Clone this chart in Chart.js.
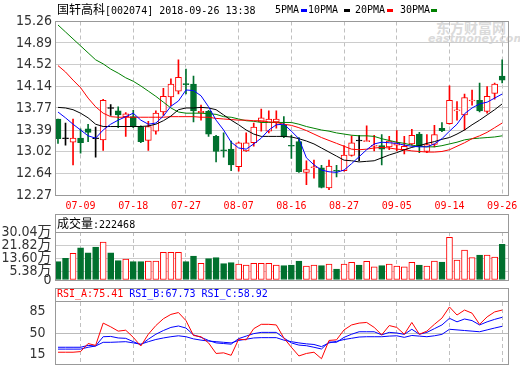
<!DOCTYPE html>
<html>
<head>
<meta charset="utf-8">
<script src="https://cdn.jsdelivr.net/npm/chart.js@4.4.1/dist/chart.umd.min.js"></script>
<style>
  html, body { margin: 0; padding: 0; background: #fff; }
  #wrap { position: relative; width: 520px; height: 365px; overflow: hidden; font-family: "DejaVu Sans Mono", "Noto Sans CJK SC", monospace; }
  canvas { position: absolute; left: 0; }
  .box { position: absolute; border: 1px solid #999; box-sizing: border-box; pointer-events: none; }
  .sep { position: absolute; height: 1px; background: #999; }
  .txt { position: absolute; font-size: 10px; line-height: 14px; white-space: nowrap; }
  .cjk { font-family: "Noto Sans CJK SC"; font-size: 12px; }
  .sw { position: absolute; width: 6px; height: 3px; }
  .wm { position: absolute; color: #dadada; white-space: nowrap; }
</style>
</head>
<body>
<div id="wrap">
  <div class="wm" style="left:436px; top:17px; font: bold 14px 'Noto Sans CJK SC';">东方财富网</div>
  <div class="wm" style="left:428px; top:32px; font: italic bold 11px 'DejaVu Sans';">eastmoney.com</div>

  <canvas id="priceChart" width="520" height="214" style="top:0"></canvas>
  <canvas id="volumeChart" width="520" height="70" style="top:214px"></canvas>
  <canvas id="rsiChart" width="520" height="77" style="top:288px"></canvas>

  <div class="txt" style="left:57px; top:2px;"><span class="cjk">国轩高科</span>[002074] 2018-09-26 13:38</div>
  <div class="txt" style="left:275px; top:3px;">5PMA</div>
  <div class="sw" style="left:301px; top:9px; background:#0000ff;"></div>
  <div class="txt" style="left:308px; top:3px;">10PMA</div>
  <div class="sw" style="left:344px; top:9px; background:#000000;"></div>
  <div class="txt" style="left:355px; top:3px;">20PMA</div>
  <div class="sw" style="left:387px; top:9px; background:#ff0000;"></div>
  <div class="txt" style="left:400px; top:3px;">30PMA</div>
  <div class="sw" style="left:431px; top:9px; background:#008000;"></div>

  <div class="box" style="left:55px; top:21px; width:454px; height:175px;"></div>

  <div class="box" style="left:55px; top:214px; width:454px; height:67px;"></div>
  <div class="sep" style="left:55px; top:232px; width:454px;"></div>
  <div class="txt" style="left:57px; top:216px;"><span class="cjk">成交量</span>:222468</div>

  <div class="box" style="left:55px; top:288px; width:454px; height:77px;"></div>
  <div class="sep" style="left:55px; top:301px; width:454px;"></div>
  <div class="txt" style="left:57px; top:287px;"><span style="color:#ff0000">RSI_A:75.41</span> <span style="color:#0000ff">RSI_B:67.73</span> <span style="color:#0000ff">RSI_C:58.92</span></div>
</div>

<script>
// trading days shown, 2018-07-04 .. 2018-09-26
const dates = [
  "07-04", "07-05", "07-06", "07-09", "07-10", "07-11", "07-12", "07-13", "07-16", "07-17",
  "07-18", "07-19", "07-20", "07-23", "07-24", "07-25", "07-26", "07-27", "07-30", "07-31",
  "08-01", "08-02", "08-03", "08-06", "08-07", "08-08", "08-09", "08-10", "08-13", "08-14",
  "08-15", "08-16", "08-17", "08-20", "08-21", "08-22", "08-23", "08-24", "08-27", "08-28",
  "08-29", "08-30", "08-31", "09-03", "09-04", "09-05", "09-06", "09-07", "09-10", "09-11",
  "09-12", "09-13", "09-14", "09-17", "09-18", "09-19", "09-20", "09-21", "09-25", "09-26",
];
const dateTicks = ["07-09", "07-18", "07-27", "08-07", "08-16", "08-27", "09-05", "09-14", "09-26"];

const opens = [
  13.58, 13.24, 13.18, 13.25, 13.41, 13.24, 13.22, 13.76, 13.72, 13.62,
  13.62, 13.44, 13.21, 13.37, 13.70, 13.96, 14.06, 14.19, 14.18, 13.69,
  13.71, 13.28, 13.04, 13.06, 12.76, 13.03, 13.17, 13.53, 13.37, 13.53,
  13.47, 13.12, 13.19, 12.66, 12.74, 12.74, 12.39, 12.69, 12.69, 12.95,
  13.20, 13.19, 13.11, 13.12, 13.10, 13.13, 13.05, 13.15, 13.32, 13.02,
  13.14, 13.42, 13.50, 13.72, 13.65, 13.89, 13.90, 13.71, 14.02, 14.32,
];
const highs = [
  13.58, 13.51, 13.58, 13.41, 13.49, 13.44, 13.92, 13.83, 13.79, 13.69,
  13.73, 13.46, 13.54, 13.72, 14.11, 14.27, 14.60, 14.44, 14.32, 13.82,
  13.73, 13.30, 13.34, 13.20, 13.18, 13.34, 13.51, 13.75, 13.72, 13.72,
  13.62, 13.30, 13.26, 12.86, 12.87, 12.78, 12.87, 12.78, 13.12, 13.29,
  13.30, 13.46, 13.30, 13.31, 13.28, 13.38, 13.28, 13.40, 13.35, 13.31,
  13.47, 13.52, 14.15, 13.88, 14.01, 14.08, 14.20, 14.14, 14.20, 14.60,
];
const lows = [
  13.16, 13.13, 12.79, 12.99, 13.19, 12.92, 13.04, 13.64, 13.43, 13.28,
  13.43, 13.17, 13.04, 13.32, 13.64, 13.81, 14.01, 14.01, 13.53, 13.56,
  13.28, 12.84, 12.92, 12.69, 12.68, 13.02, 13.11, 13.37, 13.34, 13.42,
  13.26, 12.90, 12.66, 12.45, 12.56, 12.39, 12.36, 12.58, 12.68, 12.94,
  12.86, 13.19, 13.03, 12.79, 13.05, 13.03, 12.98, 13.13, 13.00, 13.00,
  13.10, 13.36, 13.49, 13.56, 13.39, 13.82, 13.70, 13.68, 13.92, 14.20,
];
const closes = [
  13.24, 13.24, 13.25, 13.17, 13.35, 13.24, 13.90, 13.76, 13.65, 13.67,
  13.46, 13.19, 13.45, 13.68, 13.97, 14.18, 14.30, 14.17, 13.72, 13.71,
  13.32, 13.02, 13.03, 12.79, 13.17, 13.17, 13.44, 13.60, 13.58, 13.58,
  13.27, 13.11, 12.67, 12.71, 12.75, 12.40, 12.77, 12.68, 12.96, 13.17,
  13.20, 13.20, 13.12, 13.06, 13.20, 13.17, 13.11, 13.30, 13.11, 13.14,
  13.31, 13.38, 13.90, 13.73, 13.95, 13.90, 13.72, 13.97, 14.18, 14.25,
];

// moving averages as drawn on the chart
const ma5 = [
  13.70, 13.60, 13.49, 13.39, 13.29, 13.25, 13.39, 13.49, 13.56, 13.62,
  13.68, 13.56, 13.49, 13.51, 13.63, 13.80, 13.89, 14.08, 14.07, 13.98,
  13.79, 13.56, 13.39, 13.18, 13.08, 13.06, 13.15, 13.25, 13.39, 13.48,
  13.49, 13.37, 13.24, 12.91, 12.79, 12.70, 12.67, 12.66, 12.70, 12.81,
  12.93, 13.05, 13.15, 13.18, 13.17, 13.16, 13.13, 13.11, 13.10, 13.10,
  13.15, 13.24, 13.37, 13.49, 13.67, 13.77, 13.84, 13.87, 13.94, 14.01,
];
const ma10 = [
  13.78, 13.77, 13.74, 13.68, 13.60, 13.49, 13.45, 13.45, 13.45, 13.45,
  13.45, 13.45, 13.46, 13.49, 13.55, 13.63, 13.74, 13.77, 13.77, 13.78,
  13.77, 13.74, 13.65, 13.56, 13.48, 13.39, 13.32, 13.28, 13.28, 13.28,
  13.28, 13.27, 13.24, 13.20, 13.15, 13.08, 13.01, 12.94, 12.87, 12.86,
  12.84, 12.85, 12.86, 12.91, 12.96, 13.00, 13.05, 13.09, 13.12, 13.16,
  13.19, 13.23, 13.26, 13.32, 13.39, 13.48, 13.56, 13.65, 13.74, 13.84,
];
const ma20 = [
  14.50, 14.39, 14.25, 14.12, 13.94, 13.79, 13.68, 13.62, 13.61, 13.61,
  13.61, 13.61, 13.61, 13.61, 13.61, 13.62, 13.62, 13.62, 13.62, 13.61,
  13.61, 13.59, 13.58, 13.57, 13.56, 13.56, 13.55, 13.55, 13.53, 13.52,
  13.49, 13.47, 13.43, 13.38, 13.32, 13.26, 13.21, 13.16, 13.11, 13.06,
  13.05, 13.06, 13.08, 13.09, 13.08, 13.06, 13.05, 13.03, 13.02, 13.01,
  13.01, 13.02, 13.05, 13.11, 13.17, 13.24, 13.29, 13.35, 13.43, 13.51,
];
const ma30 = [
  15.20, 15.08, 14.96, 14.84, 14.72, 14.60, 14.53, 14.44, 14.37, 14.29,
  14.23, 14.15, 14.06, 13.97, 13.87, 13.77, 13.70, 13.68, 13.68, 13.68,
  13.67, 13.66, 13.62, 13.61, 13.58, 13.55, 13.54, 13.52, 13.52, 13.52,
  13.52, 13.52, 13.49, 13.45, 13.42, 13.39, 13.37, 13.34, 13.32, 13.30,
  13.29, 13.29, 13.28, 13.24, 13.21, 13.18, 13.16, 13.13, 13.11, 13.10,
  13.10, 13.12, 13.15, 13.18, 13.22, 13.24, 13.25, 13.26, 13.27, 13.29,
];

// volume, in 万 shares
const volumes = [
  11.45, 13.58, 16.71, 20.21, 17.08, 20.65, 23.78, 17.08, 12.08, 13.14,
  11.45, 11.45, 11.89, 11.89, 17.33, 17.33, 17.33, 11.45, 15.02, 10.45,
  13.33, 13.96, 10.20, 10.83, 10.01, 9.39, 10.45, 10.45, 10.45, 9.39,
  8.95, 9.39, 11.89, 8.76, 9.39, 8.95, 10.01, 6.88, 10.01, 11.08,
  9.39, 11.70, 8.32, 8.95, 10.01, 8.76, 8.32, 11.08, 9.39, 8.76,
  11.89, 11.26, 26.72, 12.52, 18.77, 13.96, 15.65, 15.65, 14.39, 22.25,
];

const rsiA = [
  19, 19, 19, 20, 33, 30, 66, 60, 53, 54.5,
  43, 29, 48, 62, 73, 80, 83, 70, 46, 44,
  34, 17, 18, 14, 40, 39, 57, 64, 64, 63,
  42, 27, 13, 17, 19, 8.5, 38, 39, 55, 63,
  66, 67, 59, 47, 62, 59, 48, 67, 48, 53,
  64, 74, 92, 79, 87, 82, 64, 76, 84, 87,
];
const rsiB = [
  27, 27, 27, 27, 30, 29, 44, 44.5, 42, 41.4,
  36, 31, 40, 48, 54, 59, 61.3, 58, 47, 43,
  38, 34, 33, 32, 41, 45, 49, 51, 51, 51,
  42, 34, 30.5, 29.5, 27, 24.2, 35.5, 35, 43, 48,
  52, 52, 52, 47, 51, 50, 47.8, 56, 48, 51,
  57, 63, 73.7, 68, 72.6, 70, 63, 68, 72, 75.3,
];
const rsiC = [
  24, 24, 24, 24, 27, 29, 35, 35, 35.5, 36,
  34, 32, 36, 39.5, 42, 44, 45.5, 44, 40.5, 38.5,
  37, 36, 35, 34, 38, 40, 42, 42.5, 42.5, 42.5,
  38.5, 36, 34, 32.5, 31.5, 28, 34, 36.5, 39.5, 41.5,
  43.5, 44, 44, 44, 45, 45.5, 43, 46, 45, 44,
  45.5, 47.8, 56, 55, 54, 53, 52, 55, 58, 60.8,
];

const priceTicks = [12.27, 12.64, 13.02, 13.39, 13.77, 14.14, 14.52, 14.89, 15.26];
const volumeTicks = [0, 5.38, 13.60, 21.82, 30.04];
const rsiTicks = [15, 50, 85];

const UP = "#ff0000";
const DOWN = "#00702e";
const FLAT = "#000000";
const GRID = "#cccccc";
const VGRID = "#c0c0c0";
const AXIS_FONT = "'Liberation Sans Narrow', 'DejaVu Sans Condensed', 'Noto Sans CJK SC', sans-serif";
const MONO_FONT = "'DejaVu Sans Mono', monospace";

const idx = dates.map((d, i) => i);
const candleColor = idx.map((i) => {
  if (closes[i] > opens[i]) return UP;
  if (closes[i] < opens[i]) return DOWN;
  return FLAT;
});

// shared x axis: the same index range in all three panels
function xAxis(showLabels, height) {
  return {
    type: "linear",
    min: -0.33,
    max: 59.84,
    offset: false,
    afterBuildTicks: (scale) => {
      scale.ticks = dateTicks.map((d) => ({ value: dates.indexOf(d) }));
    },
    afterFit: (scale) => {
      scale.height = height;
      scale.paddingLeft = 0;
      scale.paddingRight = 0;
    },
    ticks: {
      display: showLabels,
      autoSkip: false,
      maxRotation: 0,
      padding: 5,
      color: "#ff0000",
      font: { family: MONO_FONT, size: 10 },
      callback: (value) => dates[value],
    },
    grid: { color: VGRID, drawTicks: false, offset: false },
    border: { display: false, dash: [4, 3] },
  };
}

function yAxis(min, max, tickValues, labelFn, pad, gridFn) {
  return {
    min: min,
    max: max,
    afterBuildTicks: (scale) => {
      scale.ticks = tickValues.map((v) => ({ value: v }));
    },
    afterFit: (scale) => {
      scale.width = 55.5;
      scale.paddingTop = 0;
      scale.paddingBottom = 0;
    },
    ticks: {
      autoSkip: false,
      padding: pad,
      color: "#333333",
      font: { family: AXIS_FONT, size: 14 },
      callback: labelFn,
    },
    grid: { color: gridFn, drawTicks: false },
    border: { display: false },
  };
}

const baseOptions = {
  responsive: false,
  animation: false,
  events: [],
  plugins: { legend: { display: false }, tooltip: { enabled: false } },
};

/* Price panel: candles + moving averages */

new Chart(document.getElementById("priceChart"), {
  type: "bar",
  data: {
    datasets: [
      {
        type: "line",
        data: idx.map((i) => ({ x: i, y: ma5[i] })),
        borderColor: "#0000ff",
        borderWidth: 1,
        pointRadius: 0,
        order: 0,
      },
      {
        type: "line",
        data: idx.map((i) => ({ x: i, y: ma10[i] })),
        borderColor: "#000000",
        borderWidth: 1,
        pointRadius: 0,
        order: 0,
      },
      {
        type: "line",
        data: idx.map((i) => ({ x: i, y: ma20[i] })),
        borderColor: "#ff0000",
        borderWidth: 1,
        pointRadius: 0,
        order: 0,
      },
      {
        type: "line",
        data: idx.map((i) => ({ x: i, y: ma30[i] })),
        borderColor: "#008000",
        borderWidth: 1,
        pointRadius: 0,
        order: 0,
      },
      {
        // candle bodies
        data: idx.map((i) => ({ x: i, y: [opens[i], closes[i]] })),
        backgroundColor: idx.map((i) => (candleColor[i] === UP ? "#ffffff" : candleColor[i])),
        borderColor: candleColor,
        borderWidth: 1,
        borderSkipped: false,
        barThickness: 6,
        minBarLength: 1,
        grouped: false,
        order: 1,
      },
      {
        // wicks
        data: idx.map((i) => ({ x: i, y: [lows[i], highs[i]] })),
        backgroundColor: candleColor,
        borderWidth: 0,
        barThickness: 1,
        grouped: false,
        order: 2,
      },
    ],
  },
  options: {
    ...baseOptions,
    layout: { padding: { top: 21.5, right: 11.5, left: 0, bottom: 0 } },
    scales: {
      x: xAxis(true, 19),
      y: yAxis(12.27, 15.26, priceTicks, (v) => v.toFixed(2), 3.5, () => GRID),
    },
  },
});

/* Volume panel */

new Chart(document.getElementById("volumeChart"), {
  type: "bar",
  data: {
    datasets: [
      {
        data: idx.map((i) => ({ x: i, y: volumes[i] })),
        backgroundColor: idx.map((i) => (candleColor[i] === UP ? "#ffffff" : DOWN)),
        borderColor: idx.map((i) => (candleColor[i] === UP ? UP : DOWN)),
        borderWidth: 1,
        borderSkipped: false,
        barThickness: 6,
        grouped: false,
      },
    ],
  },
  options: {
    ...baseOptions,
    layout: { padding: { top: 18, right: 11.5, left: 0, bottom: 0 } },
    scales: {
      x: xAxis(false, 4),
      y: yAxis(0, 30.04, volumeTicks, (v) => (v === 0 ? "0" : v.toFixed(2) + "万"), 4,
        (ctx) => (ctx.tick && ctx.tick.value > 0 && ctx.tick.value < 30 ? GRID : "rgba(0,0,0,0)")),
    },
  },
});

/* RSI panel */

new Chart(document.getElementById("rsiChart"), {
  type: "line",
  data: {
    datasets: [
      { data: idx.map((i) => ({ x: i, y: rsiA[i] })), borderColor: "#ff0000", borderWidth: 1, pointRadius: 0 },
      { data: idx.map((i) => ({ x: i, y: rsiB[i] })), borderColor: "#0000ff", borderWidth: 1, pointRadius: 0 },
      { data: idx.map((i) => ({ x: i, y: rsiC[i] })), borderColor: "#0000ff", borderWidth: 1, pointRadius: 0 },
    ],
  },
  options: {
    ...baseOptions,
    layout: { padding: { top: 14, right: 11.5, left: 0, bottom: 0 } },
    scales: {
      x: xAxis(false, 1),
      y: yAxis(0, 100, rsiTicks, (v) => String(v), 10,
        (ctx) => (ctx.tick && ctx.tick.value === 50 ? "#bbbbbb" : "rgba(0,0,0,0)")),
    },
  },
});
</script>
</body>
</html>
